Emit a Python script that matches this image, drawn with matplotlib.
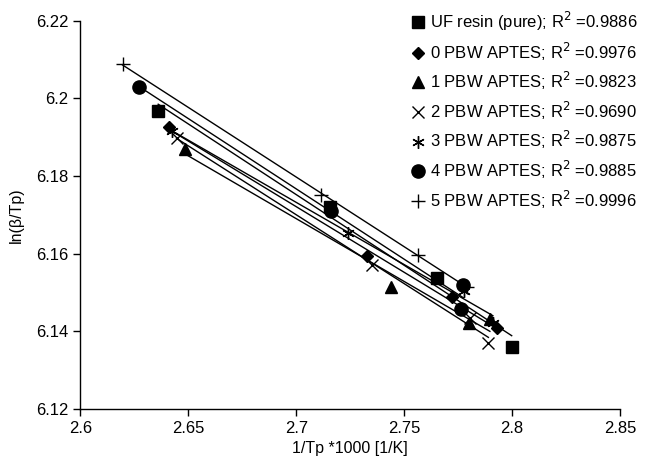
import numpy as np
import matplotlib
matplotlib.use('Agg')
import matplotlib.pyplot as plt

plt.rcParams['font.family'] = ['Liberation Sans', 'DejaVu Sans']

# Daten (1/Tp*1000, ln(beta/Tp)) je Probe
uf_x = [2.636, 2.7156, 2.7651, 2.7998]
uf_y = [6.1968, 6.1719, 6.1537, 6.1360]
p0_x = [2.6411, 2.7327, 2.772, 2.7929]
p0_y = [6.1925, 6.1594, 6.1488, 6.1408]
p1_x = [2.6484, 2.7438, 2.7802, 2.7897]
p1_y = [6.1869, 6.1513, 6.1422, 6.1432]
p2_x = [2.6445, 2.735, 2.7805, 2.789]
p2_y = [6.1898, 6.157, 6.1435, 6.1369]
p3_x = [2.6425, 2.7241, 2.7775, 2.7911]
p3_y = [6.1915, 6.1653, 6.1505, 6.1422]
p4_x = [2.6272, 2.716, 2.7763, 2.7774]
p4_y = [6.2030, 6.1710, 6.1457, 6.1519]
p5_x = [2.6195, 2.7113, 2.7565, 2.779]
p5_y = [6.2088, 6.1751, 6.1597, 6.1515]

labels = ['UF resin (pure); R$^2$ =0.9886',
          '0 PBW APTES; R$^2$ =0.9976',
          '1 PBW APTES; R$^2$ =0.9823',
          '2 PBW APTES; R$^2$ =0.9690',
          '3 PBW APTES; R$^2$ =0.9875',
          '4 PBW APTES; R$^2$ =0.9885',
          '5 PBW APTES; R$^2$ =0.9996']

series = [(uf_x, uf_y), (p0_x, p0_y), (p1_x, p1_y), (p2_x, p2_y),
          (p3_x, p3_y), (p4_x, p4_y), (p5_x, p5_y)]
markers = [('s', 8.5, 'black'), ('D', 6, 'black'), ('^', 8.5, 'black'),
           ('x', 9, 'none'), ((6, 2, 0), 9, 'none'), ('o', 9.5, 'black'),
           ('+', 10, 'none')]

fig = plt.figure(figsize=(6.46, 4.67), dpi=100)
ax = fig.add_axes([0.1246, 0.1242, 0.8352, 0.8315])

handles = []
for (xs, ys), (m, ms, fc) in zip(series, markers):
    xs = np.array(xs)
    ys = np.array(ys)
    # lineare Trendlinie
    k, d = np.polyfit(xs, ys, 1)
    xl = np.array([xs.min(), xs.max()])
    ax.plot(xl, k * xl + d, color='black', lw=1.0, zorder=2)
    h, = ax.plot(xs, ys, linestyle='none', marker=m, markersize=ms,
                 markerfacecolor='black', markeredgecolor='black',
                 markeredgewidth=1.0, zorder=3)
    handles.append(h)

ax.set_xlim(2.6, 2.85)
ax.set_ylim(6.12, 6.22)
ax.set_xticks([2.6, 2.65, 2.7, 2.75, 2.8, 2.85])
ax.set_xticklabels(['2.6', '2.65', '2.7', '2.75', '2.8', '2.85'])
ax.set_yticks([6.12, 6.14, 6.16, 6.18, 6.2, 6.22])
ax.set_yticklabels(['6.12', '6.14', '6.16', '6.18', '6.2', '6.22'])
ax.tick_params(direction='out', length=5, width=1, labelsize=12, colors='black')
ax.spines['top'].set_visible(False)
ax.spines['right'].set_visible(False)
ax.spines['left'].set_linewidth(1)
ax.spines['bottom'].set_linewidth(1)

ax.set_xlabel('1/Tp *1000 [1/K]', fontsize=11.5, labelpad=4)
ax.set_ylabel('ln(β/Tp)', fontsize=11.5, labelpad=9)

ax.legend(handles, labels, loc='upper right', bbox_to_anchor=(1.045, 1.045),
          frameon=False, fontsize=12, handlelength=0.8, handletextpad=0.3,
          labelspacing=0.45, borderaxespad=0.0)

fig.savefig('out.png', dpi=100)
